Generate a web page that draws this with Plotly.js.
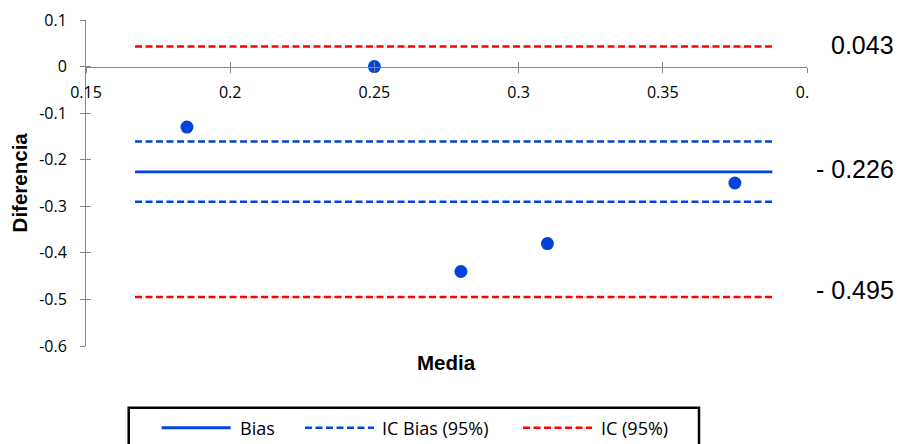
<!DOCTYPE html>
<html><head><meta charset="utf-8">
<script src="https://cdn.plot.ly/plotly-3.0.1.min.js"></script>
<style>html,body{margin:0;padding:0;background:#fff}#chart{width:899px;height:444px}</style>
</head><body><div id="chart"></div>
<script>
const media = [0.185, 0.25, 0.28, 0.31, 0.375];
const diferencia = [-0.13, 0, -0.44, -0.38, -0.25];
const lineX = [0.167, 0.388];
const bias = -0.226;
const icBias = [-0.161, -0.290];
const ic = [0.043, -0.495];
const seriesNames = ['Bias', 'IC Bias (95%)', 'IC (95%)'];
const labelTexts = ['0.043', '- 0.226', '- 0.495'];
const labelValues = [0.043, -0.226, -0.495];
const xTickVals = [0.15, 0.2, 0.25, 0.3, 0.35, 0.4];
const xTickText = ['0.15', '0.2', '0.25', '0.3', '0.35', '0.\u2007'];
const yTickVals = [0.1, 0, -0.1, -0.2, -0.3, -0.4, -0.5, -0.6];
const yTickText = ['0.1', '0', '-0.1', '-0.2', '-0.3', '-0.4', '-0.5', '-0.6'];

const BLUE = '#0044DD', RED = '#FF0000', AXC = '#868686';
const DASH = '7px,3.5px';
const seriesColors = [BLUE, BLUE, RED];
const seriesDash = ['solid', DASH, DASH];
const pair = v => [v[0], v[0], null, v[1], v[1]];
const xPair = [lineX[0], lineX[1], null, lineX[0], lineX[1]];

const traces = [
  {x: lineX, y: [bias, bias], mode: 'lines', name: seriesNames[0], showlegend: false,
   line: {color: BLUE, width: 2.75}, hoverinfo: 'skip'},
  {x: xPair, y: pair(icBias), mode: 'lines', name: seriesNames[1], showlegend: false,
   line: {color: BLUE, width: 2.5, dash: DASH}, hoverinfo: 'skip'},
  {x: xPair, y: pair(ic), mode: 'lines', name: seriesNames[2], showlegend: false,
   line: {color: RED, width: 2.5, dash: DASH}, hoverinfo: 'skip'},
  {x: media, y: diferencia, mode: 'markers', showlegend: false, name: 'Diferencia',
   marker: {color: BLUE, size: 13}},
  {x: [], y: [], xaxis: 'x2', yaxis: 'y2', mode: 'markers', showlegend: false, hoverinfo: 'skip'}
];

// pixel -> paper helpers (plot area: left 86, width 721, bottom 346, height 326)
const L = 86, W = 721, B = 346, H = 326;
const px = p => (p - L) / W;
const py = p => (B - p) / H;

const tickFont = {family: 'Open Sans, sans-serif', size: 16, color: '#000'};
const xPos = 6 / 7;

// manual legend (box, sample lines, labels)
const legendBox = {type: 'rect', xref: 'paper', yref: 'paper',
  x0: px(128.7), x1: px(699), y0: py(407.7), y1: py(449),
  line: {color: '#000', width: 2.5}, fillcolor: 'rgba(0,0,0,0)'};
const sampleStarts = [161.7, 305, 523];
const textStarts = [238, 380, 599];
const legendRowY = 427.7;
const legendShapes = sampleStarts.map((s, i) => ({type: 'line', xref: 'paper', yref: 'paper',
  x0: px(s), x1: px(s + 69), y0: py(legendRowY), y1: py(legendRowY),
  line: {color: seriesColors[i], width: i === 0 ? 3 : 2.5, dash: seriesDash[i]}}));
const legendTexts = seriesNames.map((n, i) => ({text: n, xref: 'paper', yref: 'paper',
  x: px(textStarts[i]), y: py(legendRowY), xanchor: 'left', yanchor: 'middle', showarrow: false,
  font: {family: 'Open Sans, sans-serif', size: 18, color: '#000'}}));

const layout = {
  width: 899, height: 444,
  margin: {l: L, r: 899 - L - W, t: 20, b: 444 - B},
  paper_bgcolor: '#fff', plot_bgcolor: '#fff',
  showlegend: false,
  xaxis: {range: [0.15, 0.4], anchor: 'free', position: xPos, side: 'bottom',
    showline: true, linecolor: AXC, linewidth: 1, ticks: 'outside', ticklen: 5,
    tickcolor: AXC, tickwidth: 1, tickmode: 'array', tickvals: xTickVals, ticktext: xTickText,
    tickfont: tickFont, showgrid: false, zeroline: false, ticklabelstandoff: 6},
  yaxis: {range: [-0.6, 0.1], anchor: 'x', side: 'left',
    showline: true, linecolor: AXC, linewidth: 1, ticks: 'outside', ticklen: 5,
    tickcolor: AXC, tickwidth: 1, tickmode: 'array', tickvals: yTickVals, ticktext: yTickText,
    tickfont: tickFont, showgrid: false, zeroline: false, ticklabelstandoff: 10},
  xaxis2: {range: [0.15, 0.4], overlaying: 'x', anchor: 'free', position: xPos, side: 'bottom',
    showline: false, ticks: 'inside', ticklen: 5, tickcolor: AXC, tickwidth: 1,
    tickmode: 'array', tickvals: xTickVals, showticklabels: false, showgrid: false, zeroline: false},
  yaxis2: {range: [-0.6, 0.1], overlaying: 'y', anchor: 'x2', side: 'left',
    showline: false, ticks: 'inside', ticklen: 5, tickcolor: AXC, tickwidth: 1,
    tickmode: 'array', tickvals: yTickVals, showticklabels: false, showgrid: false, zeroline: false},
  shapes: [legendBox].concat(legendShapes),
  annotations: [
    {text: '<b>Media</b>', xref: 'paper', yref: 'paper', x: 0.5, y: py(362),
     xanchor: 'center', yanchor: 'middle', showarrow: false,
     font: {family: 'Liberation Sans, Arial, sans-serif', size: 20.5, color: '#000'}},
    {text: '<b>Diferencia</b>', xref: 'paper', yref: 'paper', x: px(19.7), y: py(182.7),
     xanchor: 'center', yanchor: 'middle', showarrow: false, textangle: -90,
     font: {family: 'Liberation Sans, Arial, sans-serif', size: 20.5, color: '#000'}}
  ].concat(labelTexts.map((t, i) => ({
     text: t, xref: 'paper', yref: 'y', x: px(896), y: labelValues[i],
     xanchor: 'right', yanchor: 'middle', showarrow: false, yshift: [1.5, 3, 7][i],
     font: {family: 'Liberation Sans, Arial, sans-serif', size: 25, color: '#000'}}))).concat(legendTexts)
};

Plotly.newPlot('chart', traces, layout, {displayModeBar: false, staticPlot: true});
</script></body></html>
